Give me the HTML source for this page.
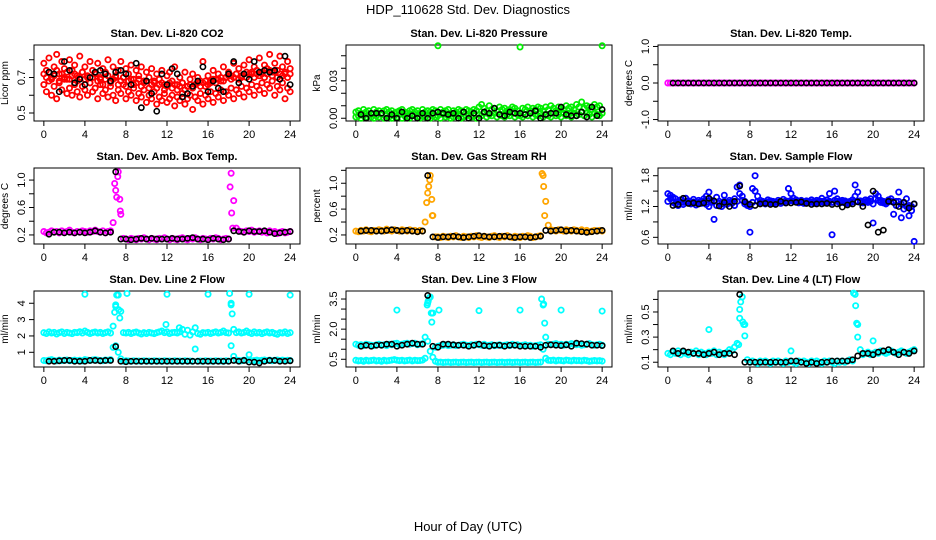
<!DOCTYPE html>
<html><head><meta charset="utf-8"><style>
body{margin:0;background:#fff;}
svg{display:block;font-family:"Liberation Sans",Arial,sans-serif;}
</style></head><body>
<svg id="chart" width="936" height="540" viewBox="0 0 936 540">
<text x="468" y="14" font-size="13" text-anchor="middle">HDP_110628  Std. Dev. Diagnostics</text>
<text x="468" y="531" font-size="13" text-anchor="middle">Hour of Day (UTC)</text>
</svg>
<script>
// ---------- data ----------
const xTicks=[0,4,8,12,16,20,24];
const co2Hi=[0.78,0.74,0.81,0.70,0.76,0.83,0.72,0.79,0.75,0.69,0.80,0.74,0.77,0.71,0.82,0.73,0.76,0.70,0.79,0.74,0.72,0.78,0.69,0.75,0.73,0.80,0.68,0.76,0.71,0.74,0.79,0.70,0.75,0.72,0.77,0.69,0.74,0.71,0.76,0.68,0.73,0.70,0.75,0.67,0.72,0.69,0.74,0.66,0.71,0.73,0.68,0.76,0.66,0.70,0.67,0.73,0.65,0.69,0.72,0.66,0.70,0.68,0.79,0.65,0.71,0.67,0.74,0.69,0.72,0.68,0.76,0.70,0.73,0.71,0.78,0.72,0.75,0.70,0.77,0.73,0.80,0.72,0.76,0.74,0.81,0.72,0.77,0.75,0.83,0.73,0.78,0.74,0.82,0.76,0.72,0.79,0.75];
const co2Lo=[0.66,0.62,0.68,0.60,0.65,0.58,0.67,0.63,0.69,0.61,0.64,0.60,0.66,0.62,0.59,0.65,0.63,0.60,0.67,0.62,0.64,0.58,0.66,0.61,0.63,0.59,0.65,0.60,0.57,0.63,0.61,0.66,0.58,0.62,0.60,0.64,0.57,0.61,0.59,0.63,0.56,0.60,0.58,0.62,0.55,0.59,0.57,0.61,0.56,0.58,0.60,0.54,0.59,0.57,0.61,0.55,0.58,0.60,0.52,0.59,0.57,0.61,0.55,0.60,0.58,0.62,0.56,0.61,0.59,0.63,0.57,0.62,0.60,0.64,0.58,0.63,0.61,0.65,0.59,0.64,0.62,0.66,0.60,0.65,0.63,0.67,0.61,0.66,0.64,0.68,0.60,0.65,0.63,0.67,0.58,0.64,0.62];
const co2Mid=[0.72,0.70,0.73,0.69,0.71,0.74,0.68,0.72,0.70,0.73,0.69,0.71,0.72,0.68,0.70,0.73,0.69,0.71,0.67,0.70,0.72,0.68,0.70,0.66,0.69,0.71,0.67,0.69,0.70,0.66,0.68,0.70,0.65,0.68,0.69,0.66,0.67,0.69,0.65,0.67,0.68,0.64,0.66,0.68,0.64,0.66,0.67,0.63,0.65,0.67,0.64,0.66,0.63,0.65,0.67,0.63,0.65,0.66,0.64,0.66,0.67,0.65,0.67,0.68,0.66,0.68,0.69,0.67,0.69,0.70,0.68,0.70,0.71,0.69,0.70,0.72,0.69,0.71,0.72,0.70,0.72,0.73,0.70,0.72,0.71,0.73,0.70,0.72,0.74,0.71,0.73,0.70,0.72,0.71,0.73,0.70,0.72];
const co2Black=[0.73,0.72,0.62,0.79,0.74,0.67,0.69,0.66,0.70,0.73,0.74,0.72,0.68,0.73,0.74,0.72,0.66,0.78,0.53,0.68,0.61,0.51,0.72,0.66,0.75,0.72,0.59,0.61,0.65,0.68,0.76,0.62,0.68,0.64,0.62,0.72,0.79,0.67,0.72,0.69,0.79,0.73,0.74,0.73,0.74,0.69,0.82,0.66];

const presHi=[0.005,0.006,0.004,0.007,0.005,0.006,0.003,0.007,0.005,0.006,0.004,0.006,0.007,0.005,0.006,0.004,0.005,0.006,0.007,0.005,0.004,0.006,0.007,0.005,0.006,0.004,0.007,0.005,0.006,0.005,0.007,0.006,0.058,0.007,0.005,0.006,0.007,0.004,0.006,0.005,0.007,0.006,0.005,0.007,0.006,0.005,0.007,0.006,0.009,0.011,0.008,0.006,0.010,0.007,0.008,0.006,0.009,0.007,0.008,0.006,0.007,0.009,0.008,0.006,0.057,0.008,0.007,0.009,0.006,0.008,0.007,0.009,0.008,0.006,0.009,0.007,0.010,0.008,0.006,0.009,0.008,0.007,0.010,0.008,0.009,0.007,0.011,0.009,0.013,0.008,0.010,0.009,0.007,0.011,0.009,0.010,0.058];
const presLo=[0.001,0.002,0.000,0.002,0.001,0.003,0.001,0.000,0.002,0.001,0.003,0.000,0.002,0.001,0.000,0.002,0.001,0.003,0.000,0.002,0.001,0.000,0.002,0.003,0.001,0.000,0.002,0.001,0.003,0.000,0.002,0.001,0.002,0.000,0.003,0.001,0.002,0.000,0.001,0.003,0.002,0.000,0.001,0.002,0.003,0.001,0.002,0.000,0.003,0.002,0.004,0.001,0.003,0.002,0.004,0.001,0.003,0.002,0.001,0.003,0.002,0.004,0.001,0.003,0.002,0.001,0.003,0.002,0.004,0.001,0.003,0.002,0.004,0.001,0.003,0.002,0.001,0.004,0.002,0.003,0.001,0.004,0.002,0.003,0.001,0.004,0.002,0.003,0.005,0.002,0.004,0.003,0.001,0.004,0.003,0.002,0.004];
const presBlack=[0.003,0.0,0.004,0.004,0.004,0.0,0.003,0.0,0.005,0.0,0.002,0.0,0.004,0.0,0.004,0.005,0.004,0.003,0.004,0.0,0.005,0.0,0.004,0.0,0.005,0.004,0.008,0.003,0.002,0.005,0.004,0.004,0.003,0.004,0.006,0.0,0.003,0.004,0.004,0.009,0.003,0.002,0.002,0.005,0.001,0.009,0.002,0.007];

const tempAll=[0,0,0,0,0,0,0,0,0,0,0,0,0,0,0,0,0,0,0,0,0,0,0,0,0,0,0,0,0,0,0,0,0,0,0,0,0,0,0,0,0,0,0,0,0,0,0,0,0,0,0,0,0,0,0,0,0,0,0,0,0,0,0,0,0,0,0,0,0,0,0,0,0,0,0,0,0,0,0,0,0,0,0,0,0,0,0,0,0,0,0,0,0,0,0,0,0];
const tempBlack=[0,0,0,0,0,0,0,0,0,0,0,0,0,0,0,0,0,0,0,0,0,0,0,0,0,0,0,0,0,0,0,0,0,0,0,0,0,0,0,0,0,0,0,0,0,0,0,0];

const boxAll=[0.25,0.23,0.24,0.26,0.24,0.25,0.23,0.26,0.24,0.25,0.27,0.24,0.23,0.25,0.24,0.26,0.25,0.24,0.26,0.25,0.27,0.25,0.24,0.26,0.23,0.25,0.26,0.38,0.85,1.12,0.50,0.15,0.14,0.13,0.15,0.14,0.13,0.15,0.14,0.16,0.14,0.13,0.15,0.14,0.13,0.15,0.14,0.16,0.14,0.13,0.15,0.14,0.13,0.15,0.16,0.14,0.13,0.15,0.14,0.16,0.14,0.13,0.15,0.14,0.13,0.15,0.14,0.16,0.15,0.13,0.14,0.15,0.14,1.10,0.70,0.30,0.26,0.25,0.24,0.26,0.25,0.27,0.24,0.25,0.26,0.24,0.25,0.23,0.26,0.24,0.25,0.22,0.24,0.25,0.23,0.24,0.25];
const boxSpikeHour=[6.9,7.1,7.2,7.4,7.45,18.15,18.3,18.4];
const boxSpikeVal=[0.95,0.75,1.05,0.72,0.55,0.9,0.52,0.3];
const boxBlack=[0.21,0.24,0.24,0.23,0.24,0.23,0.24,0.23,0.24,0.26,0.24,0.23,0.24,1.12,0.14,0.14,0.13,0.14,0.15,0.14,0.15,0.14,0.14,0.14,0.15,0.14,0.14,0.15,0.16,0.14,0.14,0.13,0.15,0.14,0.13,0.14,0.26,0.25,0.24,0.26,0.25,0.25,0.26,0.24,0.22,0.23,0.24,0.25];

const rhAll=[0.26,0.25,0.27,0.26,0.28,0.26,0.25,0.27,0.26,0.28,0.27,0.26,0.29,0.27,0.26,0.28,0.27,0.26,0.28,0.27,0.26,0.28,0.26,0.27,0.25,0.27,0.26,0.40,0.85,1.12,0.50,0.17,0.17,0.16,0.18,0.17,0.16,0.18,0.17,0.19,0.17,0.16,0.18,0.17,0.16,0.18,0.17,0.19,0.17,0.16,0.18,0.17,0.16,0.18,0.19,0.17,0.16,0.18,0.17,0.19,0.17,0.16,0.18,0.17,0.16,0.18,0.17,0.19,0.18,0.16,0.17,0.18,0.19,1.12,0.72,0.35,0.28,0.27,0.26,0.28,0.27,0.26,0.28,0.27,0.26,0.28,0.27,0.26,0.28,0.26,0.27,0.25,0.26,0.27,0.26,0.27,0.26];
const rhSpikeHour=[6.9,7.1,7.2,7.4,7.45,18.15,18.3,18.4];
const rhSpikeVal=[0.7,0.95,1.05,0.75,0.5,1.15,0.95,0.5];
const rhBlack=[0.26,0.27,0.27,0.26,0.26,0.27,0.28,0.27,0.26,0.27,0.26,0.25,0.26,1.12,0.17,0.16,0.17,0.17,0.18,0.17,0.16,0.17,0.18,0.19,0.18,0.17,0.17,0.18,0.18,0.17,0.16,0.17,0.17,0.16,0.17,0.18,0.27,0.26,0.27,0.28,0.26,0.27,0.26,0.25,0.24,0.25,0.26,0.27];

const flowHi=[1.45,1.42,1.38,1.35,1.30,1.33,1.28,1.36,1.31,1.29,1.34,1.27,1.32,1.30,1.35,1.40,1.48,1.32,0.95,1.38,1.30,1.25,1.42,1.28,1.32,1.30,1.35,1.58,1.62,1.40,1.30,1.25,0.70,1.55,1.80,1.40,1.32,1.30,1.28,1.33,1.31,1.30,1.29,1.32,1.30,1.34,1.31,1.55,1.45,1.36,1.33,1.30,1.32,1.29,1.31,1.30,1.33,1.30,1.32,1.31,1.36,1.30,1.33,1.45,0.65,1.50,1.35,1.30,1.32,1.31,1.29,1.30,1.33,1.62,1.48,1.31,1.30,1.33,1.32,1.35,0.88,1.45,1.40,1.32,1.30,1.28,1.33,1.35,1.05,1.30,1.48,0.98,1.15,1.20,1.02,1.12,0.52];
const flowLo=[1.30,1.35,1.28,1.25,1.22,1.28,1.24,1.30,1.27,1.25,1.29,1.23,1.28,1.26,1.30,1.24,1.20,1.28,1.30,1.22,1.26,1.20,1.30,1.24,1.28,1.26,1.22,1.30,1.45,1.32,1.25,1.22,1.20,1.28,1.50,1.30,1.28,1.27,1.25,1.29,1.27,1.26,1.25,1.28,1.26,1.29,1.27,1.30,1.32,1.30,1.29,1.27,1.28,1.26,1.28,1.27,1.29,1.26,1.28,1.27,1.30,1.27,1.29,1.30,1.28,1.32,1.30,1.27,1.28,1.27,1.26,1.27,1.29,1.40,1.30,1.28,1.27,1.29,1.28,1.30,1.25,1.35,1.32,1.28,1.27,1.25,1.29,1.30,1.28,1.22,1.30,1.25,1.28,1.35,1.22,1.20,1.25];
const flowBlack=[1.22,1.24,1.36,1.26,1.27,1.25,1.27,1.36,1.31,1.21,1.28,1.20,1.30,1.60,1.29,1.24,1.22,1.25,1.26,1.24,1.24,1.30,1.27,1.27,1.28,1.29,1.26,1.24,1.25,1.25,1.26,1.24,1.25,1.19,1.23,1.25,1.29,1.20,0.84,1.50,0.70,0.74,1.30,1.28,1.20,1.28,1.17,1.25];

const line2Hi=[2.20,2.15,2.25,2.18,2.22,2.12,2.20,2.25,2.15,2.22,2.18,2.14,2.22,2.20,2.26,2.18,2.30,2.22,2.15,2.20,2.24,2.18,2.22,2.15,2.20,2.25,2.18,2.60,3.80,4.50,3.50,2.20,2.18,2.22,2.15,2.20,2.24,2.18,2.12,2.20,2.15,2.22,2.18,2.14,2.20,2.25,2.30,2.20,2.25,2.15,2.20,2.22,2.18,2.25,2.40,2.10,2.35,2.05,2.25,2.50,2.15,2.10,2.20,2.18,2.22,2.15,2.20,2.25,2.18,2.22,2.30,2.20,2.18,4.00,2.40,2.20,2.25,2.18,2.22,2.30,2.20,2.15,2.25,2.18,2.22,2.14,2.20,2.25,2.18,2.22,2.15,2.10,2.20,2.18,2.25,2.15,2.20];
const line2Lo=[0.50,0.48,0.52,0.55,0.50,0.47,0.52,0.49,0.51,0.53,0.48,0.50,0.52,0.49,0.51,0.47,0.55,0.52,0.50,0.53,0.55,0.52,0.50,0.48,0.53,0.51,0.55,1.30,1.40,1.00,0.60,0.45,0.48,0.47,0.45,0.48,0.46,0.47,0.45,0.48,0.46,0.47,0.45,0.48,0.46,0.47,0.45,0.48,0.46,0.47,0.45,0.48,0.46,0.47,0.45,0.48,0.46,0.47,0.45,1.20,0.46,0.47,0.45,0.48,0.46,0.47,0.45,0.48,0.46,0.47,0.45,0.48,0.46,1.40,0.75,0.52,0.50,0.48,0.52,0.50,0.85,0.48,0.50,0.52,0.49,0.51,0.53,0.50,0.52,0.48,0.51,0.53,0.50,0.52,0.49,0.51,0.50];
const line2SpikeHour=[4,6.9,7.0,7.1,7.3,7.4,8.1,12,16,18.1,18.25,18.35,20,24,13.2,11.9];
const line2SpikeVal=[4.55,3.45,3.9,4.5,3.6,3.1,4.6,4.55,4.55,4.6,3.9,3.35,4.55,4.5,2.5,2.7];
const line2Black=[0.45,0.45,0.48,0.50,0.50,0.45,0.45,0.45,0.50,0.50,0.48,0.50,0.50,1.35,0.45,0.42,0.45,0.45,0.45,0.45,0.45,0.45,0.45,0.45,0.45,0.45,0.45,0.45,0.45,0.45,0.45,0.45,0.45,0.45,0.45,0.45,0.50,0.45,0.50,0.40,0.40,0.35,0.45,0.50,0.50,0.45,0.45,0.48];

const line3Hi=[1.25,1.20,1.22,1.18,1.25,1.22,1.20,1.18,1.22,1.25,1.20,1.22,1.18,1.25,1.22,1.28,1.30,1.22,1.25,1.28,1.30,1.25,1.28,1.30,1.22,1.25,1.28,1.60,3.30,3.60,2.80,1.10,1.15,1.18,1.20,1.22,1.18,1.20,1.22,1.18,1.20,1.22,1.25,1.20,1.18,1.22,1.20,1.25,1.22,1.20,1.25,1.18,1.20,1.22,1.18,1.20,1.22,1.18,1.20,1.22,1.18,1.25,1.20,1.22,1.18,1.20,1.22,1.18,1.20,1.15,1.18,1.20,1.22,3.20,1.60,1.25,1.22,1.25,1.28,1.22,1.25,1.20,1.25,1.22,1.28,1.25,1.22,1.25,1.20,1.22,1.25,1.28,1.22,1.20,1.22,1.25,1.20];
const line3Lo=[0.45,0.42,0.44,0.40,0.45,0.42,0.44,0.46,0.42,0.44,0.40,0.45,0.42,0.44,0.46,0.48,0.45,0.43,0.45,0.42,0.44,0.46,0.42,0.45,0.43,0.44,0.46,0.55,1.40,0.90,0.60,0.40,0.35,0.36,0.34,0.35,0.36,0.34,0.35,0.36,0.34,0.35,0.36,0.34,0.35,0.36,0.34,0.35,0.36,0.34,0.35,0.36,0.34,0.35,0.36,0.34,0.35,0.36,0.34,0.35,0.36,0.34,0.35,0.36,0.34,0.35,0.36,0.34,0.35,0.36,0.34,0.35,0.36,1.00,0.55,0.45,0.44,0.46,0.42,0.45,0.44,0.42,0.46,0.44,0.42,0.45,0.43,0.44,0.42,0.45,0.43,0.40,0.42,0.44,0.42,0.43,0.41];
const line3SpikeHour=[4,8.1,12,16,20,24,6.95,7.05,7.15,7.35,7.4,18.1,18.3,18.4];
const line3SpikeVal=[2.95,2.95,2.92,2.95,2.95,2.9,3.2,3.4,3.55,2.8,2.35,3.5,3.25,2.3];
const line3Black=[1.15,1.20,1.15,1.20,1.20,1.25,1.25,1.15,1.20,1.25,1.30,1.25,1.25,3.68,1.15,1.10,1.25,1.25,1.22,1.20,1.20,1.15,1.20,1.25,1.18,1.15,1.20,1.20,1.15,1.20,1.20,1.15,1.15,1.15,1.15,1.10,1.20,1.22,1.20,1.18,1.22,1.15,1.30,1.28,1.25,1.20,1.20,1.18];

const line4All=[0.17,0.16,0.18,0.17,0.19,0.16,0.18,0.17,0.16,0.18,0.17,0.19,0.16,0.18,0.17,0.16,0.18,0.17,0.19,0.16,0.18,0.17,0.16,0.18,0.20,0.19,0.22,0.25,0.45,0.62,0.40,0.12,0.10,0.11,0.10,0.09,0.11,0.10,0.11,0.10,0.09,0.11,0.10,0.11,0.10,0.09,0.11,0.10,0.11,0.10,0.09,0.11,0.10,0.11,0.10,0.09,0.11,0.10,0.11,0.10,0.09,0.11,0.10,0.11,0.10,0.09,0.11,0.10,0.11,0.10,0.11,0.12,0.11,0.64,0.40,0.20,0.16,0.17,0.18,0.16,0.17,0.18,0.17,0.19,0.18,0.17,0.18,0.19,0.18,0.17,0.18,0.19,0.18,0.17,0.18,0.19,0.20];
const line4SpikeHour=[4,6.9,7.0,7.1,7.3,7.4,7.5,12,18.1,18.3,18.4,18.5,20];
const line4SpikeVal=[0.36,0.24,0.52,0.58,0.42,0.40,0.31,0.19,0.65,0.55,0.41,0.30,0.27];
const line4Black=[0.19,0.17,0.19,0.18,0.17,0.17,0.16,0.17,0.18,0.16,0.17,0.17,0.16,0.64,0.10,0.10,0.10,0.10,0.10,0.10,0.10,0.10,0.10,0.11,0.11,0.10,0.09,0.10,0.09,0.10,0.10,0.11,0.11,0.11,0.11,0.12,0.15,0.17,0.17,0.16,0.18,0.19,0.20,0.18,0.16,0.18,0.17,0.19];

// ---------- panel definitions ----------
const panels=[
 {name:'co2',title:'Stan. Dev. Li-820 CO2',ylab:'Licor ppm',col:0,row:0,ylim:[0.455,0.883],yt:[0.5,0.6,0.7,0.8],yl:[0.5,0.7],dig:1,color:'#ff0000',series:[co2Hi,co2Lo,co2Mid],sh:[],sv:[],black:co2Black},
 {name:'pressure',title:'Stan. Dev. Li-820 Pressure',ylab:'kPa',col:1,row:0,ylim:[-0.0022,0.0586],yt:[0,0.01,0.02,0.03,0.04,0.05],yl:[0,0.03],dig:2,color:'#00ee00',series:[presHi,presLo],sh:[],sv:[],black:presBlack},
 {name:'li820-temp',title:'Stan. Dev. Li-820 Temp.',ylab:'degrees C',col:2,row:0,ylim:[-1.04,1.04],yt:[-1,-0.5,0,0.5,1],yl:[-1,0,1],dig:1,color:'#ff00ff',series:[tempAll],sh:[],sv:[],black:tempBlack},
 {name:'amb-box-temp',title:'Stan. Dev. Amb. Box Temp.',ylab:'degrees C',col:0,row:1,ylim:[0.068,1.176],yt:[0.2,0.4,0.6,0.8,1.0],yl:[0.2,0.6,1.0],dig:1,color:'#ff00ff',series:[boxAll],sh:boxSpikeHour,sv:boxSpikeVal,black:boxBlack},
 {name:'gas-stream-rh',title:'Stan. Dev. Gas Stream RH',ylab:'percent',col:1,row:1,ylim:[0.06,1.236],yt:[0.2,0.4,0.6,0.8,1.0,1.2],yl:[0.2,0.6,1.0],dig:1,color:'#ffa500',series:[rhAll],sh:rhSpikeHour,sv:rhSpikeVal,black:rhBlack},
 {name:'sample-flow',title:'Stan. Dev. Sample Flow',ylab:'ml/min',col:2,row:1,ylim:[0.47,1.95],yt:[0.6,0.9,1.2,1.5,1.8],yl:[0.6,1.2,1.8],dig:1,color:'#0000ff',series:[flowHi,flowLo],sh:[],sv:[],black:flowBlack},
 {name:'line2-flow',title:'Stan. Dev. Line 2 Flow',ylab:'ml/min',col:0,row:2,ylim:[0.1,4.75],yt:[1,2,3,4],yl:[1,2,3,4],dig:0,color:'#00ffff',series:[line2Hi,line2Lo],sh:line2SpikeHour,sv:line2SpikeVal,black:line2Black},
 {name:'line3-flow',title:'Stan. Dev. Line 3 Flow',ylab:'ml/min',col:1,row:2,ylim:[0.115,3.9],yt:[0.5,1,1.5,2,2.5,3,3.5],yl:[0.5,2.0,3.5],dig:1,color:'#00ffff',series:[line3Hi,line3Lo],sh:line3SpikeHour,sv:line3SpikeVal,black:line3Black},
 {name:'line4-flow',title:'Stan. Dev. Line 4 (LT) Flow',ylab:'ml/min',col:2,row:2,ylim:[0.062,0.667],yt:[0.1,0.2,0.3,0.4,0.5,0.6],yl:[0.1,0.3,0.5],dig:1,color:'#00ffff',series:[line4All],sh:line4SpikeHour,sv:line4SpikeVal,black:line4Black}
];

const NS='http://www.w3.org/2000/svg';
const svg=document.getElementById('chart');
function mk(tag,attrs,parent){const e=document.createElementNS(NS,tag);for(const k in attrs)e.setAttribute(k,attrs[k]);parent.appendChild(e);return e;}
const colX=[34,346,658], rowY=[45,168,291], W=266, H=76;
const XMIN=-0.96, XMAX=24.96;

panels.forEach(p=>{
  const L=colX[p.col], T=rowY[p.row], R=L+W, B=T+H;
  const xs=v=>L+(v-XMIN)/(XMAX-XMIN)*W;
  const ys=v=>B-(v-p.ylim[0])/(p.ylim[1]-p.ylim[0])*H;
  const g=mk('g',{},svg);
  
  
  const t=mk('text',{x:(L+R)/2,y:T-8,'font-size':11,'font-weight':'bold','text-anchor':'middle'},g);
  t.textContent=p.title;
  
  
  const yl=mk('text',{x:0,y:0,'font-size':10,'text-anchor':'middle',transform:`translate(${L-26},${(T+B)/2}) rotate(-90)`},g);
  yl.textContent=p.ylab;
  
  
  const xa=mk('g',{stroke:'#000','stroke-width':1},g);
  
  
  mk('line',{x1:xs(xTicks[0]),x2:xs(xTicks[xTicks.length-1]),y1:B,y2:B},xa);
  xTicks.forEach(v=>{
    mk('line',{x1:xs(v),x2:xs(v),y1:B,y2:B+5},xa);
    const tl=mk('text',{x:xs(v),y:B+17,'font-size':11,'text-anchor':'middle',stroke:'none'},xa);
    tl.textContent=v;
    
    
  });
  const ya=mk('g',{stroke:'#000','stroke-width':1},g);
  
  
  mk('line',{x1:L,x2:L,y1:ys(p.yt[0]),y2:ys(p.yt[p.yt.length-1])},ya);
  p.yt.forEach(v=>mk('line',{x1:L-5,x2:L,y1:ys(v),y2:ys(v)},ya));
  p.yl.forEach(v=>{
    const tl=mk('text',{x:0,y:0,'font-size':11,'text-anchor':'middle',stroke:'none',transform:`translate(${L-9},${ys(v)}) rotate(-90)`},ya);
    tl.textContent=v.toFixed(p.dig);
    
    
  });
  const bx=mk('rect',{x:L,y:T,width:W,height:H,fill:'none',stroke:'#000','stroke-width':1},g);
  
  
  const cg=mk('g',{fill:'none',stroke:p.color,'stroke-width':1.8},g);
  
  
  p.series.forEach(arr=>{
    arr.forEach((v,i)=>{
      const c=mk('circle',{cx:xs(i*24/(arr.length-1)),cy:ys(v),r:2.6},cg);
      
      
    });
  });
  p.sh.forEach((h,i)=>{
    const c=mk('circle',{cx:xs(h),cy:ys(p.sv[i]),r:2.6},cg);
    
    
  });
  const bg=mk('g',{fill:'none',stroke:'#000','stroke-width':1.6},g);
  
  
  p.black.forEach((v,j)=>{
    const c=mk('circle',{cx:xs(0.5*(j+1)),cy:ys(v),r:2.6},bg);
    
    
  });
});
</script>
</body></html>
